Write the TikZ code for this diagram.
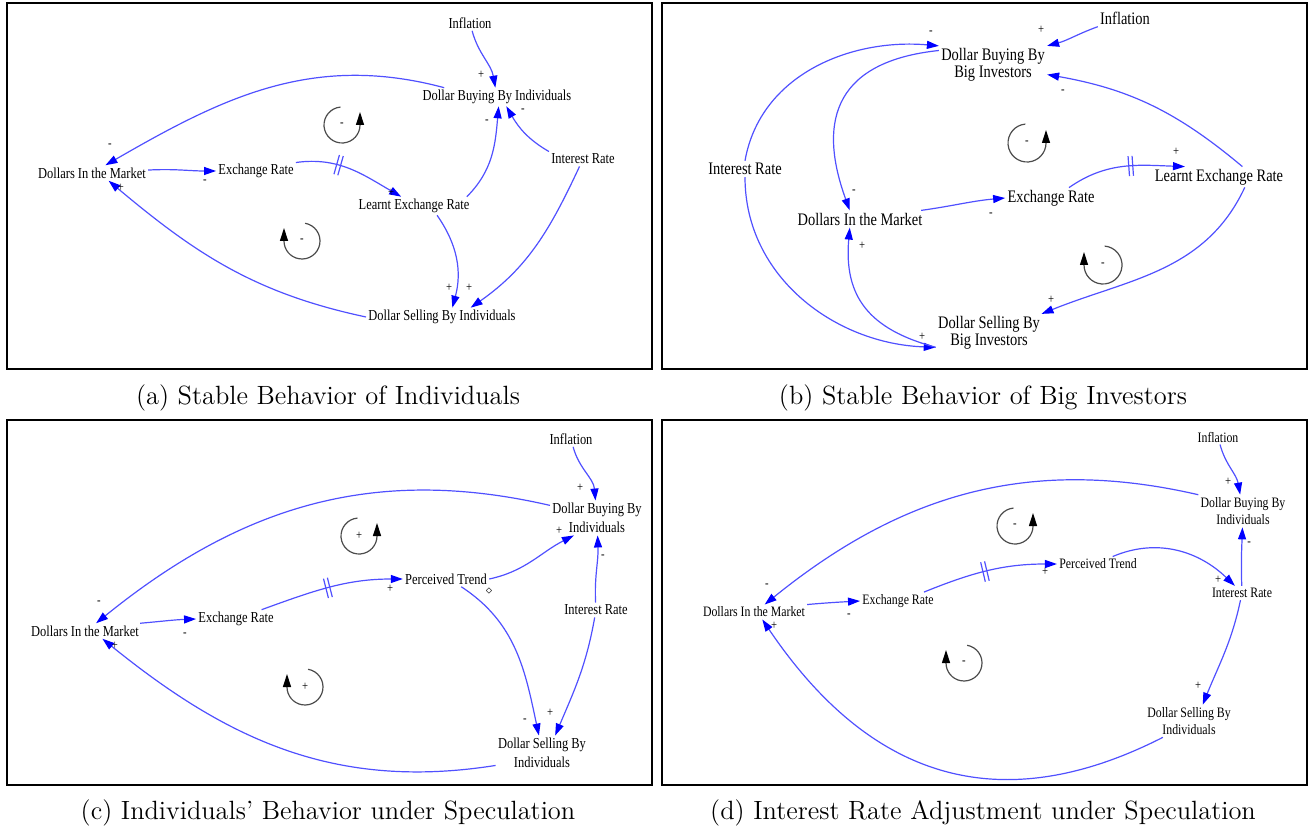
\documentclass[tikz,border=0pt]{standalone}
\usepackage{fontspec}
\usepackage{tikz}
\usetikzlibrary{arrows.meta,decorations.markings}
\newfontfamily\cldfont[FakeStretch=0.82]{Liberation Serif}
\definecolor{linkblue}{RGB}{80,80,255}
\tikzstyle{var} = [font=\cldfont\fontsize{7.6}{9.7}\selectfont, inner sep=1pt, align=center]
\tikzstyle{bigvar} = [var, font=\cldfont\fontsize{8.8}{8.7}\selectfont]
\tikzstyle{smallvar} = [var, font=\cldfont\fontsize{7.2}{8.9}\selectfont]
\tikzstyle{sgn} = [font=\cldfont\fontsize{6.5}{7}\selectfont, inner sep=0pt]
\tikzstyle{link} = [linkblue, line width=0.6pt, -{Triangle[length=6pt,width=4pt,blue]}]
\tikzstyle{loopc} = [black!70, line width=0.6pt, -{Triangle[length=6.5pt,width=4pt,black]}]
\tikzstyle{panel} = [draw, line width=1.1pt]
\tikzstyle{captxt} = [font=\fontsize{13.2}{15}\selectfont]
\tikzset{delay/.style={postaction={decorate,decoration={markings,
  mark=at position #1 with {\draw[-,linkblue] (-2,-10) -- (-2,10) (2,-10) -- (2,10);}}}}}

\begin{document}
\begin{tikzpicture}[x=0.5pt,y=0.5pt]
\useasboundingbox (0,0) rectangle (1309,-833);

\draw[panel] (7,-3) rectangle (652,-369);
\node[var] (a-inf) at (470,-23) {Inflation};
\node[var] (a-buy) at (497,-97) {Dollar Buying By Individuals};
\node[var] (a-int) at (583,-159) {Interest Rate};
\node[var] (a-dm) at (92,-173) {Dollars In the Market};
\node[var] (a-er) at (256,-171) {Exchange Rate};
\node[var] (a-ler) at (414,-206) {Learnt Exchange Rate};
\node[var] (a-sell) at (442,-317) {Dollar Selling By Individuals};
\draw[link] (a-inf) to[out=285,in=100] (a-buy);
\draw[link] (a-buy.170) to[out=165,in=30] (a-dm.30);
\draw[link] (a-dm) to[out=3,in=180] (a-er);
\draw[link,delay=0.38] (a-er.12) to[out=8,in=150] (a-ler.144);
\draw[link] (a-ler.10) to[out=45,in=265] (a-buy.280);
\draw[link] (a-int.north west) to[out=150,in=-60] (a-buy.315);
\draw[link] (a-int) to[out=245,in=35] (a-sell.18);
\draw[link] (a-ler.-22) to[out=305,in=75] (a-sell.42);
\draw[link] (a-sell.west) to[out=168,in=-40] (a-dm.-25);
\node[sgn] (a-s1) at (481,-75) {+};
\node[sgn] (a-s2) at (110,-146) {-};
\node[sgn] (a-s3) at (205,-182) {-};
\node[sgn] (a-s4) at (391,-193) {+};
\node[sgn] (a-s5) at (487,-122) {-};
\node[sgn] (a-s6) at (523,-111) {-};
\node[sgn] (a-s7) at (449,-288) {+};
\node[sgn] (a-s8) at (469,-288) {+};
\node[sgn] (a-s9) at (121,-188) {+};
\node[sgn] (a-l1) at (342,-125) {-};
\draw[loopc] ([shift={(95:18)}]a-l1.center) arc[start angle=95,end angle=360,radius=18] -- ++(0,13);
\node[sgn] (a-l2) at (302,-241) {-};
\draw[loopc] ([shift={(80:18)}]a-l2.center) arc[start angle=80,end angle=-180,radius=18] -- ++(0,13);
\node[captxt] (cap-a) at (328,-398) {(a) Stable Behavior of Individuals};

\draw[panel] (662,-3) rectangle (1307,-369);
\node[bigvar] (b-inf) at (1125,-18) {Inflation};
\node[bigvar] (b-buy) at (993,-65) {Dollar Buying By\\Big Investors};
\node[bigvar] (b-int) at (745,-169) {Interest Rate};
\node[bigvar] (b-ler) at (1219,-177) {Learnt Exchange Rate};
\node[bigvar] (b-er) at (1051,-198) {Exchange Rate};
\node[bigvar] (b-dm) at (860,-219) {Dollars In the Market};
\node[bigvar] (b-sell) at (989,-333) {Dollar Selling By\\Big Investors};
\draw[link] (b-inf.south west) to[out=200,in=15] (b-buy.north east);
\draw[link] (b-int.north) to[out=80,in=175] (b-buy.north west);
\draw[link] (b-int.south) to[out=270,in=178] (b-sell.195);
\draw[link] (b-buy.165) to[out=186,in=110,looseness=1.4] (b-dm.140);
\draw[link] (b-sell.195) to[out=165,in=265,looseness=1.2] (b-dm.-140);
\draw[link] (b-dm.8) to[out=8,in=185] (b-er.west);
\draw[link,delay=0.55] (b-er.30) to[out=35,in=178] (b-ler.163);
\draw[link] (b-ler.24) to[out=140,in=-10] (b-buy.-10);
\draw[link] (b-ler.-22) to[out=245,in=22] (b-sell.20);
\node[sgn] (b-s1) at (1041,-30) {+};
\node[sgn] (b-s2) at (931,-33) {-};
\node[sgn] (b-s3) at (922,-337) {+};
\node[sgn] (b-s4) at (854,-192) {-};
\node[sgn] (b-s5) at (862,-246) {+};
\node[sgn] (b-s6) at (991,-215) {-};
\node[sgn] (b-s7) at (1176,-152) {+};
\node[sgn] (b-s8) at (1063,-92) {-};
\node[sgn] (b-s9) at (1051,-300) {+};
\node[sgn] (b-l1) at (1027,-143) {-};
\draw[loopc] ([shift={(95:19)}]b-l1.center) arc[start angle=95,end angle=360,radius=19] -- ++(0,13);
\node[sgn] (b-l2) at (1103,-265) {-};
\draw[loopc] ([shift={(85:19)}]b-l2.center) arc[start angle=85,end angle=-180,radius=19] -- ++(0,13);
\node[captxt] (cap-b) at (983,-398) {(b) Stable Behavior of Big Investors};

\draw[panel] (7,-420) rectangle (652,-785);
\node[var] (c-inf) at (571,-439) {Inflation};
\node[var] (c-buy) at (597,-518) {Dollar Buying By\\Individuals};
\node[var] (c-int) at (596,-610) {Interest Rate};
\node[var] (c-pt) at (446,-579) {Perceived Trend};
\node[var] (c-er) at (236,-619) {Exchange Rate};
\node[var] (c-dm) at (85,-631) {Dollars In the Market};
\node[var] (c-sell) at (542,-753) {Dollar Selling By\\Individuals};
\draw[link] (c-inf) to[out=285,in=95] (c-buy);
\draw[link] (c-buy.165) to[out=167,in=39] (c-dm.35);
\draw[link] (c-dm.8) to[out=5,in=182] (c-er.west);
\draw[link,delay=0.48] (c-er.20) to[out=20,in=180] (c-pt.west);
\draw[link] (c-pt.east) to[out=12,in=207] (c-buy.217);
\draw[link] (c-int) to[out=93,in=272] (c-buy);
\draw[link] (c-int) to[out=260,in=67] (c-sell.53);
\draw[link] (c-pt.-27) to[out=327,in=102] (c-sell.100);
\draw[link] (c-sell.195) to[out=189,in=-39] (c-dm.-24);
\node[sgn] (c-s1) at (580,-488) {+};
\node[sgn] (c-s2) at (99,-603) {-};
\node[sgn] (c-s3) at (185,-635) {-};
\node[sgn] (c-s4) at (390,-589) {+};
\node[sgn] (c-s5) at (559,-531) {+};
\node[sgn] (c-s6) at (603,-557) {-};
\node[sgn] (c-s7) at (550,-713) {+};
\node[sgn] (c-s8) at (525,-721) {-};
\node[sgn] (c-s9) at (115,-646) {+};
\node[sgn] (c-dmd) at (489,-591) {\fontsize{4}{4}\selectfont$\diamond$};
\node[sgn] (c-l1) at (359,-536) {+};
\draw[loopc] ([shift={(95:18)}]c-l1.center) arc[start angle=95,end angle=360,radius=18] -- ++(0,13);
\node[sgn] (c-l2) at (305,-687) {+};
\draw[loopc] ([shift={(80:18)}]c-l2.center) arc[start angle=80,end angle=-180,radius=18] -- ++(0,13);
\node[captxt] (cap-c) at (328,-813) {(c) Individuals' Behavior under Speculation};

\draw[panel] (662,-420) rectangle (1307,-785);
\node[smallvar] (d-inf) at (1218,-437) {Inflation};
\node[smallvar] (d-buy) at (1243,-511) {Dollar Buying By\\Individuals};
\node[smallvar] (d-int) at (1242,-593) {Interest Rate};
\node[smallvar] (d-pt) at (1098,-564) {Perceived Trend};
\node[smallvar] (d-er) at (898,-601) {Exchange Rate};
\node[smallvar] (d-dm) at (754,-612) {Dollars In the Market};
\node[smallvar] (d-sell) at (1189,-721) {Dollar Selling By\\Individuals};
\draw[link] (d-inf) to[out=285,in=100] (d-buy);
\draw[link] (d-buy.160) to[out=167,in=39] (d-dm.35);
\draw[link] (d-dm.8) to[out=5,in=183] (d-er.west);
\draw[link,delay=0.47] (d-er.19) to[out=22,in=180] (d-pt.west);
\draw[link] (d-pt.27) to[out=23,in=136] (d-int.135);
\draw[link] (d-int) to[out=92,in=268] (d-buy);
\draw[link] (d-int) to[out=258,in=68] (d-sell.50);
\draw[link] (d-sell.212) to[out=207,in=-56,looseness=1.15] (d-dm.-42);
\node[sgn] (d-s1) at (1228,-482) {+};
\node[sgn] (d-s2) at (767,-586) {-};
\node[sgn] (d-s3) at (849,-616) {-};
\node[sgn] (d-s4) at (1045,-572) {+};
\node[sgn] (d-s5) at (1218,-580) {+};
\node[sgn] (d-s6) at (1249,-544) {-};
\node[sgn] (d-s7) at (1198,-686) {+};
\node[sgn] (d-s8) at (774,-626) {+};
\node[sgn] (d-l1) at (1015,-526) {-};
\draw[loopc] ([shift={(95:18)}]d-l1.center) arc[start angle=95,end angle=360,radius=18] -- ++(0,13);
\node[sgn] (d-l2) at (964,-663) {-};
\draw[loopc] ([shift={(80:18)}]d-l2.center) arc[start angle=80,end angle=-180,radius=18] -- ++(0,13);
\node[captxt] (cap-d) at (983,-813) {(d) Interest Rate Adjustment under Speculation};
\end{tikzpicture}
\end{document}
